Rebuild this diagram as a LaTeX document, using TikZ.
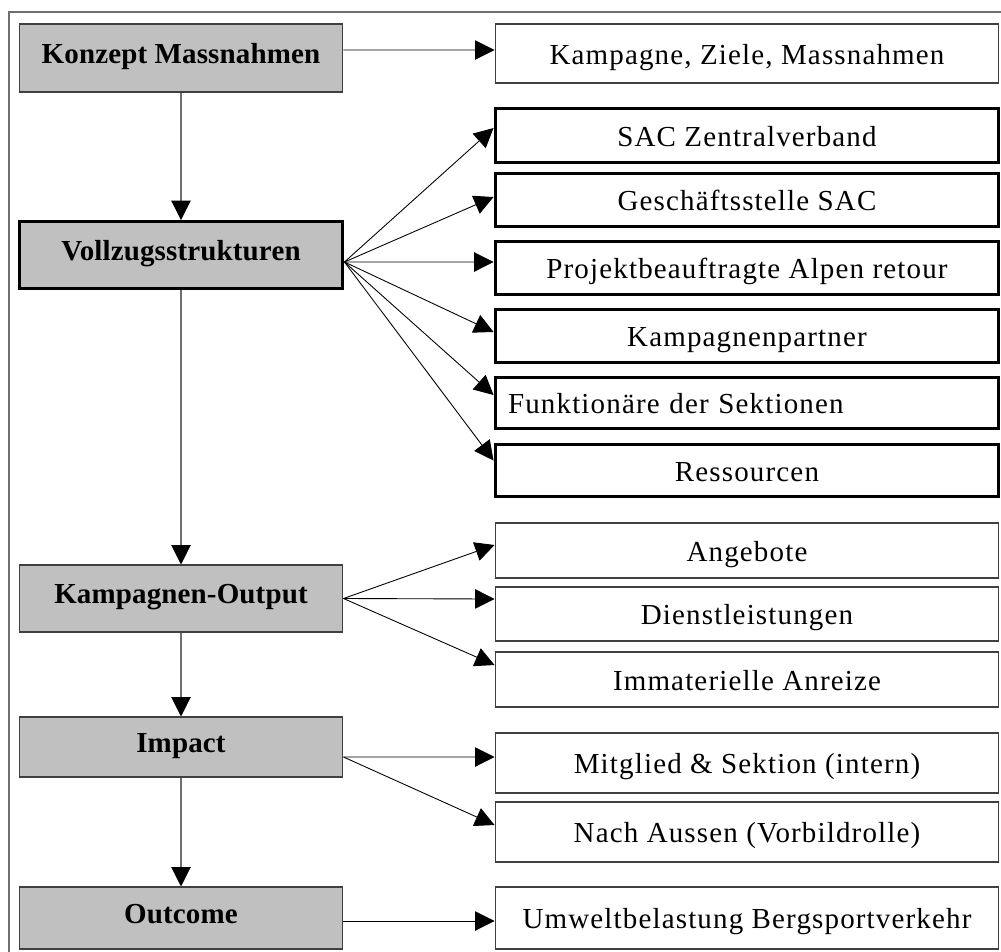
\documentclass[tikz,border=0pt]{standalone}
\usepackage{fontspec}
\setmainfont{Liberation Serif}[LetterSpace=4, BoldFeatures={LetterSpace=0.5}]
\usetikzlibrary{arrows.meta}

\definecolor{boxgray}{HTML}{C0C0C0}
\definecolor{edgegray}{HTML}{404040}
\definecolor{linkgray}{HTML}{6E6E6E}

\tikzset{
  stage/.style={draw=edgegray, fill=boxgray, line width=0.6pt, inner sep=0pt,
    minimum width=6.48cm, text height=12pt, text depth=6pt,
    font=\fontsize{16.5}{19}\selectfont\bfseries},
  stagethick/.style={stage, draw=black, line width=1.7pt},
  item/.style={draw=edgegray, fill=white, line width=0.6pt, inner sep=0pt,
    minimum width=10.08cm, text height=15pt, text depth=3pt,
    font=\fontsize{16.5}{19}\selectfont},
  itemthick/.style={item, draw=black, line width=1.7pt},
  flow/.style={draw=linkgray, line width=0.6pt, -{Triangle[length=11pt,width=11pt,color=black]}},
  fan/.style={draw=black, line width=0.5pt, -{Triangle[length=11pt,width=11pt]}}
}

\begin{document}
\begin{tikzpicture}[x=0.02cm, y=-0.02cm]
  \useasboundingbox (0,0) rectangle (1001,951);

  % outer frame (only top and left edge inside the page)
  \draw[linkgray, line width=0.6pt] (9,12) rectangle (1020,970);

  % left column: stages
  \node[stage, minimum height=1.36cm]      (konzept) at (181,58)    {Konzept Massnahmen};
  \node[stagethick, minimum height=1.34cm] (vollzug) at (181,255)   {Vollzugsstrukturen};
  \node[stage, minimum height=1.34cm]      (output)  at (181,598.5) {Kampagnen-Output};
  \node[stage, minimum height=1.2cm]       (impact)  at (181,747)   {Impact};
  \node[stage, minimum height=1.24cm]      (outcome) at (181,918)   {Outcome};

  % right column: details
  \node[item, minimum height=1.18cm]       (ziele)    at (747,53.5)  {Kampagne, Ziele, Massnahmen};
  \node[itemthick, minimum height=1.08cm]  (sac)      at (747,135.5) {SAC Zentralverband};
  \node[itemthick, minimum height=1.06cm]  (gst)      at (747,200)   {Geschäftsstelle SAC};
  \node[itemthick, minimum height=1.06cm]  (projekt)  at (747,268)   {Projektbeauftragte Alpen retour};
  \node[itemthick, minimum height=1.06cm]  (partner)  at (747,336)   {Kampagnenpartner};
  \node[itemthick, minimum height=1.02cm, text width=9.56cm, align=left]
                                           (funktion) at (747,403)   {Funktionäre der Sektionen};
  \node[itemthick, minimum height=1.04cm]  (ressourc) at (747,470.5) {Ressourcen};
  \node[item, minimum height=1.1cm]        (angebot)  at (747,550.5) {Angebote};
  \node[item, minimum height=1.08cm]       (dienst)   at (747,614)   {Dienstleistungen};
  \node[item, minimum height=1.1cm]        (anreiz)   at (747,679.5) {Immaterielle Anreize};
  \node[item, minimum height=1.2cm]        (intern)   at (747,763)   {Mitglied \& Sektion (intern)};
  \node[item, minimum height=1.2cm]        (aussen)   at (747,832)   {Nach Aussen (Vorbildrolle)};
  \node[item, minimum height=1.24cm]       (umwelt)   at (747,918)   {Umweltbelastung Bergsportverkehr};

  % main flow
  \draw[flow] (konzept) -- (vollzug);
  \draw[flow] (vollzug) -- (output);
  \draw[flow] (output) -- (impact);
  \draw[flow] (impact) -- (outcome);

  % fan-out points
  \coordinate (k0) at ([yshift=0.16cm]konzept.east);
  \coordinate (v0) at ([yshift=-0.14cm]vollzug.east);
  \coordinate (o0) at (output.east);
  \coordinate (i0) at ([yshift=-0.2cm]impact.east);
  \coordinate (u0) at ([yshift=-0.06cm]outcome.east);

  \draw[fan] (k0) -- ([yshift=0.07cm]ziele.west);

  \draw[fan] (v0) -- ([yshift=0.15cm]sac.west);
  \draw[fan] (v0) -- ([yshift=0.06cm]gst.west);
  \draw[fan] (v0) -- ([yshift=0.12cm]projekt.west);
  \draw[fan] (v0) -- ([yshift=0.08cm]partner.west);
  \draw[fan] (v0) -- ([yshift=0.16cm]funktion.west);
  \draw[fan] (v0) -- ([yshift=0.2cm]ressourc.west);

  \draw[fan] (o0) -- ([yshift=0.11cm]angebot.west);
  \draw[fan] (o0) -- ([yshift=0.3cm]dienst.west);
  \draw[fan] (o0) -- ([yshift=0.29cm]anreiz.west);

  \draw[fan] (i0) -- ([yshift=0.12cm]intern.west);
  \draw[fan] (i0) -- ([yshift=0.14cm]aussen.west);

  \draw[fan] (u0) -- ([yshift=-0.06cm]umwelt.west);
\end{tikzpicture}
\end{document}
